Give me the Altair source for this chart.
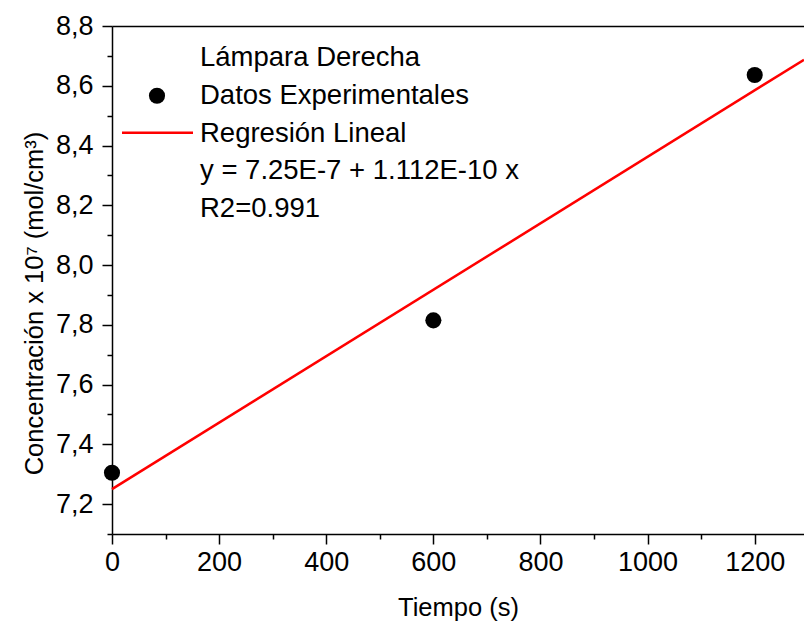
import altair as alt
import pandas as pd

# ---- data ----
tiempo = [0, 600, 1200]
concentracion = [7.305, 7.815, 8.636]

# regression line y = 7.25 + 0.001112 x (units of 1e-7 mol/cm3), endpoints
fit_x = [0, 1292]
fit_y = [7.25, 8.687]

legend_title = "Lámpara Derecha"
legend_points = "Datos Experimentales"
legend_line = "Regresión Lineal"
legend_eq = "y = 7.25E-7 + 1.112E-10 x"
legend_r2 = "R2=0.991"

x_ticks = [0, 100, 200, 300, 400, 500, 600, 700, 800, 900, 1000, 1100, 1200]
y_ticks = [7.1, 7.2, 7.3, 7.4, 7.5, 7.6, 7.7, 7.8, 7.9, 8.0, 8.1, 8.2, 8.3, 8.4, 8.5, 8.6, 8.7, 8.8]
x_domain = [0, 1292]
y_domain = [7.1, 8.8]

x_title = "Tiempo (s)"
y_title = "Concentración x 10⁷ (mol/cm³)"

# ---- layout ----
W, H = 692, 508
FONT = "Liberation Sans"
LAB = 27
TIT = 25.5
LEG = 27.5

pts = pd.DataFrame({"t": tiempo, "c": concentracion})
fit = pd.DataFrame({"t": fit_x, "c": fit_y})

x_scale = alt.Scale(domain=x_domain, nice=False, zero=False)
y_scale = alt.Scale(domain=y_domain, nice=False, zero=False)

x_axis = alt.Axis(
    values=x_ticks,
    labelExpr="datum.value % 200 == 0 ? format(datum.value, 'd') : ''",
    tickSize={"condition": {"test": "datum.value % 200 == 0", "value": 10}, "value": 5},
    labelPadding=5,
    labelFlush=False,
    labelFontSize=LAB,
    title=x_title,
    titleFontSize=TIT,
    titleFontWeight="normal",
    titleBaseline="alphabetic",
    titleY=81,
)
y_axis = alt.Axis(
    values=y_ticks,
    labelExpr="round(datum.value * 10) % 2 == 0 ? replace(format(datum.value, '.1f'), '.', ',') : ''",
    tickSize={"condition": {"test": "round(datum.value * 10) % 2 == 0", "value": 10}, "value": 5},
    labelPadding=9,
    labelFlush=False,
    labelFontSize=LAB,
    title=y_title,
    titleFontSize=TIT,
    titleFontWeight="normal",
    titleAngle=270,
    titleAlign="center",
    titleBaseline="alphabetic",
    titleX=-70,
    titleY=277,
)

points = alt.Chart(pts).mark_circle(size=260, color="black", opacity=1).encode(
    x=alt.X("t:Q", scale=x_scale, axis=x_axis),
    y=alt.Y("c:Q", scale=y_scale, axis=y_axis),
)

line = alt.Chart(fit).mark_line(color="#ff0000", strokeWidth=2.5).encode(
    x=alt.X("t:Q", scale=x_scale, axis=None),
    y=alt.Y("c:Q", scale=y_scale, axis=None),
)

top = alt.Chart(fit).mark_line(opacity=0).encode(
    x=alt.X("t:Q", scale=x_scale,
            axis=alt.Axis(orient="top", labels=False, ticks=False, title=None, domain=True)),
    y=alt.Y("c:Q", scale=y_scale, axis=None),
)

def text_layer(txt, ypix):
    return alt.Chart(pd.DataFrame({"s": [txt]})).mark_text(
        align="left", baseline="alphabetic", fontSize=LEG, font=FONT, color="black"
    ).encode(text="s:N", x=alt.value(88), y=alt.value(ypix))

leg_marker = alt.Chart(pd.DataFrame({"s": [legend_points]})).mark_circle(
    size=260, color="black", opacity=1
).encode(x=alt.value(45), y=alt.value(69.7))

leg_rule = alt.Chart(pd.DataFrame({"s": [legend_line]})).mark_rule(
    color="#ff0000", strokeWidth=2.5
).encode(x=alt.value(10), x2=alt.value(81), y=alt.value(106.7))

chart = alt.layer(
    line,
    points,
    top,
    leg_rule,
    leg_marker,
    text_layer(legend_title, 40),
    text_layer(legend_points, 78),
    text_layer(legend_line, 115.7),
    text_layer(legend_eq, 153),
    text_layer(legend_r2, 190.7),
).resolve_axis(x="independent", y="independent").properties(
    width=W,
    height=H,
    padding={"left": 112, "top": 26, "right": 0, "bottom": 91},
    autosize=alt.AutoSizeParams(type="none"),
    background="white",
).configure_view(
    strokeWidth=0
).configure_axis(
    grid=False,
    domainColor="black",
    domainWidth=1.5,
    tickColor="black",
    tickWidth=1.5,
    labelColor="black",
    titleColor="black",
    labelFont=FONT,
    titleFont=FONT,
)

chart.save("out.html", embed_options={"renderer": "svg", "actions": False})
